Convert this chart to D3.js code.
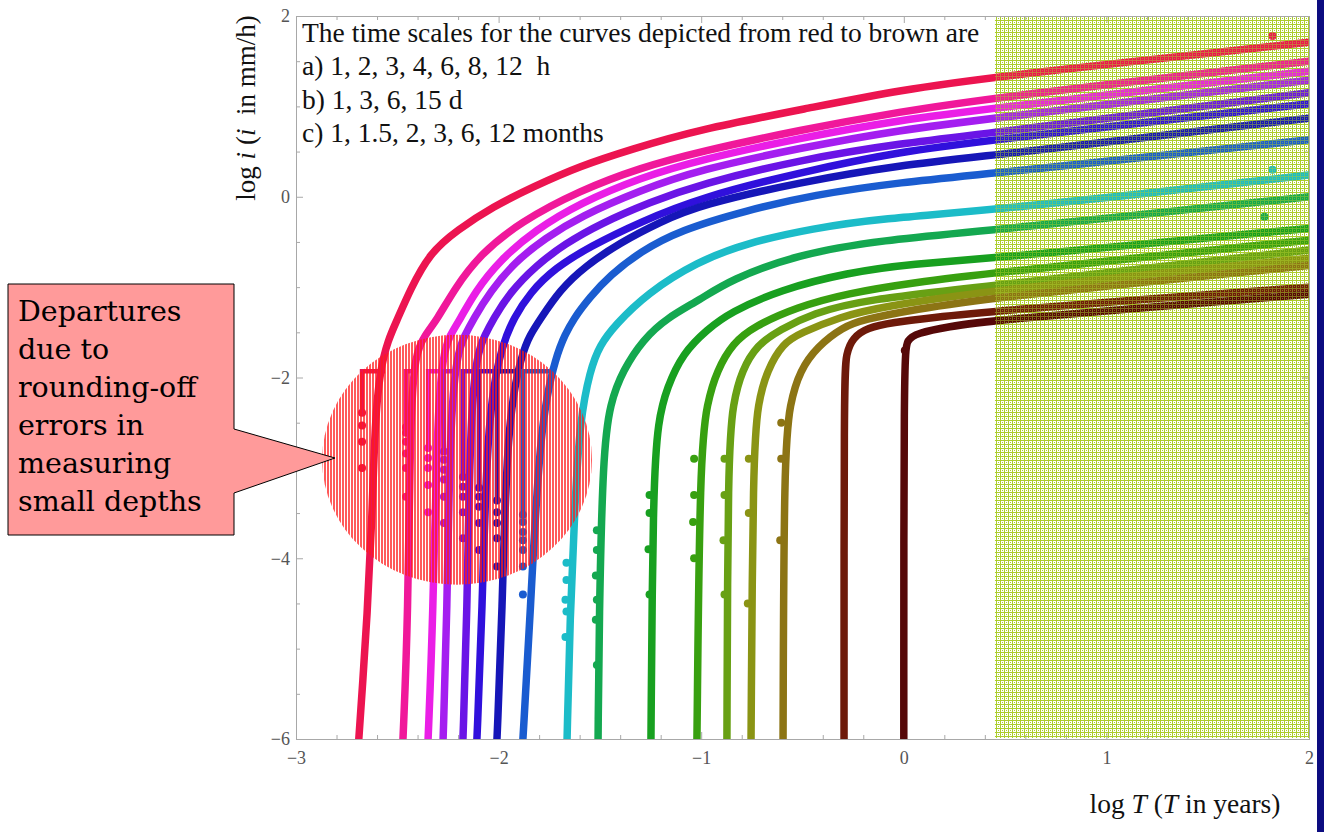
<!DOCTYPE html>
<html>
<head>
<meta charset="utf-8">
<script src="https://cdn.jsdelivr.net/npm/d3@7/dist/d3.min.js"></script>
<style>
  body { margin: 0; background: #fff; }
</style>
</head>
<body>
<div id="chart"></div>
<script>
// one array per duration: [log T, log i]
const c1h  = [[-2.69,-6],[-2.67,-5.35],[-2.65,-4.68],[-2.625,-3.58],[-2.61,-2.47],[-2.585,-1.92],[-2.546,-1.585],[-2.5,-1.36],[-2.437,-1.03],[-2.339,-0.62],[-2.205,-0.37],[-2.028,-0.11],[-1.83,0.11],[-1.598,0.34],[-1.351,0.52],[-1.021,0.74],[-0.448,0.99],[-0.019,1.18],[0.45,1.33],[2,1.71]];
const c2h  = [[-2.472,-6],[-2.447,-4.68],[-2.437,-2.47],[-2.413,-1.73],[-2.363,-1.53],[-2.304,-1.36],[-2.215,-1.01],[-2.092,-0.64],[-1.894,-0.28],[-1.598,0.07],[-1.302,0.32],[-1.006,0.5],[-0.512,0.74],[-0.019,0.94],[0.45,1.1],[2,1.5]];
const c3h  = [[-2.348,-6],[-2.324,-4.68],[-2.304,-2.47],[-2.274,-1.73],[-2.24,-1.53],[-2.191,-1.36],[-2.116,-1.05],[-1.993,-0.7],[-1.82,-0.37],[-1.598,-0.07],[-1.302,0.21],[-1.006,0.41],[-0.512,0.65],[-0.019,0.85],[0.45,0.98],[2,1.39]];
const c4h  = [[-2.274,-6],[-2.255,-4.68],[-2.24,-2.47],[-2.205,-1.73],[-2.166,-1.53],[-2.126,-1.36],[-2.042,-1.05],[-1.919,-0.72],[-1.771,-0.46],[-1.598,-0.22],[-1.302,0.07],[-1.006,0.3],[-0.512,0.54],[-0.019,0.74],[0.45,0.87],[2,1.29]];
const c6h  = [[-2.176,-6],[-2.156,-4.68],[-2.141,-2.47],[-2.107,-1.73],[-2.067,-1.53],[-2.028,-1.36],[-1.944,-1.06],[-1.82,-0.77],[-1.672,-0.52],[-1.5,-0.3],[-1.253,-0.06],[-1.006,0.14],[-0.512,0.41],[-0.019,0.59],[0.45,0.71],[2,1.15]];
const c8h  = [[-2.107,-6],[-2.082,-4.68],[-2.057,-2.47],[-1.993,-1.73],[-1.959,-1.53],[-1.929,-1.36],[-1.845,-1.06],[-1.722,-0.79],[-1.549,-0.55],[-1.302,-0.28],[-1.006,-0.01],[-0.512,0.27],[-0.019,0.5],[0.45,0.63],[2,1.03]];
const c12h = [[-2.008,-6],[-1.983,-4.68],[-1.959,-2.47],[-1.885,-1.73],[-1.845,-1.53],[-1.796,-1.36],[-1.697,-1.03],[-1.574,-0.77],[-1.401,-0.51],[-1.203,-0.28],[-1.006,-0.09],[-0.512,0.16],[-0.019,0.35],[0.45,0.46],[2,0.87]];
const c1d  = [[-1.88,-6],[-1.845,-4.68],[-1.796,-2.47],[-1.712,-1.73],[-1.672,-1.53],[-1.633,-1.36],[-1.549,-1.11],[-1.45,-0.87],[-1.302,-0.61],[-1.105,-0.37],[-0.774,-0.15],[-0.448,0.02],[-0.019,0.16],[0.45,0.26],[2,0.63]];
const c3d  = [[-1.662,-6],[-1.648,-4.68],[-1.623,-3.36],[-1.598,-2.47],[-1.549,-1.92],[-1.5,-1.64],[-1.425,-1.42],[-1.268,-1.07],[-1.021,-0.72],[-0.774,-0.51],[-0.448,-0.35],[-0.117,-0.24],[0.45,-0.15],[2,0.24]];
const c6d  = [[-1.509,-6],[-1.504,-4.68],[-1.485,-2.84],[-1.45,-2.28],[-1.386,-1.92],[-1.287,-1.58],[-1.169,-1.34],[-1.006,-1.14],[-0.858,-0.92],[-0.527,-0.64],[-0.117,-0.48],[0.45,-0.37],[2,0]];
const c15d = [[-1.248,-6],[-1.238,-3.21],[-1.213,-2.47],[-1.169,-2.11],[-1.09,-1.73],[-0.971,-1.47],[-0.858,-1.28],[-0.611,-1.03],[-0.28,-0.84],[0.045,-0.74],[0.45,-0.68],[2,-0.35]];
const c1m  = [[-1.021,-6],[-1.006,-2.84],[-0.971,-2.28],[-0.922,-1.92],[-0.843,-1.62],[-0.744,-1.44],[-0.527,-1.22],[-0.28,-1.07],[0.045,-0.95],[0.45,-0.84],[2,-0.48]];
const c15m = [[-0.873,-6],[-0.868,-2.84],[-0.843,-2.28],[-0.799,-1.92],[-0.725,-1.64],[-0.611,-1.47],[-0.448,-1.29],[-0.201,-1.14],[0.45,-0.98],[2,-0.59]];
const c2m  = [[-0.754,-6],[-0.744,-2.84],[-0.72,-2.28],[-0.675,-1.92],[-0.596,-1.62],[-0.512,-1.51],[-0.315,-1.33],[-0.117,-1.22],[0.45,-1.03],[2,-0.68]];
const c3m  = [[-0.596,-6],[-0.591,-2.84],[-0.562,-2.28],[-0.512,-1.92],[-0.428,-1.66],[-0.3,-1.44],[-0.201,-1.36],[0.045,-1.25],[0.45,-1.11],[2,-0.76]];
const c6m  = [[-0.295,-6],[-0.295,-2.03],[-0.285,-1.73],[-0.251,-1.56],[-0.182,-1.45],[-0.053,-1.39],[0.129,-1.34],[0.45,-1.26],[2,-1]];
const c12m = [[0,-6],[0,-1.75],[0.016,-1.58],[0.065,-1.51],[0.213,-1.44],[0.45,-1.36],[2,-1.08]];

const curves = [c1h, c2h, c3h, c4h, c6h, c8h, c12h, c1d, c3d, c6d, c15d, c1m, c15m, c2m, c3m, c6m, c12m];
const curveColors = ["#ec1450","#f0189a","#ea1ee6","#a41ef0","#6a14e6","#3010dc","#1616b8","#1a5cd0",
                     "#1cbcc8","#14a850","#18a020","#38a010","#68a014","#8a9414","#8c7414","#6e1a0a","#560808"];

// rounding-off departures of the hourly/daily curves
const depX    = [-2.674,-2.457,-2.348,-2.27,-2.176,-2.097,-2.008,-1.88];
const depEndX = [-2.56,-2.41,-2.27,-2.2,-2.1,-1.99,-1.89,-1.75];
const depLevel = -1.93;
const depDots = [
  [-2.39,-2.53,-2.71,-3.0],
  [-2.55,-2.61,-2.71,-2.84,-3.0,-3.32],
  [-2.78,-2.89,-3.0,-3.19,-3.49],
  [-2.82,-2.91,-3.02,-3.13,-3.32,-3.61],
  [-3.1,-3.21,-3.32,-3.49,-3.78],
  [-3.22,-3.32,-3.43,-3.61,-3.91],
  [-3.36,-3.49,-3.61,-3.78,-4.09],
  [-3.52,-3.6,-3.71,-3.8,-3.91,-4.09,-4.4]
];
// scattered points off the curves: [curve index, log T, log i]
const strayDots = [
  [8,-1.665,-4.05],[8,-1.665,-4.24],[8,-1.67,-4.46],[8,-1.665,-4.59],[8,-1.67,-4.87],
  [9,-1.515,-3.69],[9,-1.515,-3.91],[9,-1.52,-4.19],[9,-1.515,-4.46],[9,-1.52,-4.68],[9,-1.515,-5.18],
  [10,-1.255,-3.3],[10,-1.255,-3.5],[10,-1.26,-3.9],[10,-1.255,-4.4],
  [11,-1.035,-2.9],[11,-1.035,-3.3],[11,-1.04,-3.6],[11,-1.035,-4.0],
  [12,-0.885,-2.9],[12,-0.885,-3.3],[12,-0.89,-3.8],[12,-0.885,-4.4],
  [13,-0.765,-2.9],[13,-0.765,-3.5],[13,-0.77,-4.5],
  [14,-0.605,-2.5],[14,-0.605,-2.9],[14,-0.61,-3.8],
  [16,0.005,-1.7],[0,1.82,1.78],[8,1.82,0.3],[9,1.78,-0.22]
];

const xMajor = [-3,-2,-1,0,1,2];
const xMinor = [-2.8,-2.6,-2.4,-2.2,-1.8,-1.6,-1.4,-1.2,-0.8,-0.6,-0.4,-0.2,0.2,0.4,0.6,0.8,1.2,1.4,1.6,1.8];
const yMajor = [-6,-4,-2,0,2];
const yMinor = [-5.5,-5,-4.5,-3.5,-3,-2.5,-1.5,-1,-0.5,0.5,1,1.5];

const noteLines = ["The time scales for the curves depicted from red to brown are",
                   "a) 1, 2, 3, 4, 6, 8, 12  h", "b) 1, 3, 6, 15 d", "c) 1, 1.5, 2, 3, 6, 12 months"];
const calloutLines = ["Departures","due to","rounding-off","errors in","measuring","small depths"];

const serif = "'Liberation Serif', 'Times New Roman', serif";
const W = 1324, H = 832;
const svg = d3.select("#chart").append("svg").attr("width", W).attr("height", H);

const x = d3.scaleLinear().domain([-3, 2]).range([296, 1309]);
const y = d3.scaleLinear().domain([-6, 2]).range([739, 16]);

const defs = svg.append("defs");
defs.append("clipPath").attr("id", "plot").append("rect")
  .attr("x", x(-3)).attr("y", y(2)).attr("width", x(2) - x(-3)).attr("height", y(-6) - y(2));

const mesh = defs.append("pattern").attr("id", "mesh")
  .attr("width", 4).attr("height", 4).attr("patternUnits", "userSpaceOnUse");
[[0,0,4,1],[0,1,1,3],[2,2,1,1]].forEach(r =>
  mesh.append("rect").attr("x", r[0]).attr("y", r[1]).attr("width", r[2]).attr("height", r[3]).attr("fill", "#accd2c"));

const hatch = defs.append("pattern").attr("id", "hatch")
  .attr("width", 3).attr("height", 3).attr("patternUnits", "userSpaceOnUse");
hatch.append("rect").attr("width", 2).attr("height", 3).attr("fill", "#ff1a1a");

// frame + ticks
const axisCol = "#a8a8a8";
function styleAxis(g) {
  g.selectAll("path.domain").attr("stroke", axisCol);
  g.selectAll(".tick line").attr("stroke", axisCol);
  g.selectAll("text").attr("fill", "#555").attr("font-size", 18).attr("font-family", serif);
}
const frame = [
  [d3.axisBottom(x), `translate(0,${y(-6)})`, xMajor, xMinor, true],
  [d3.axisTop(x), `translate(0,${y(2)})`, xMajor, xMinor, false],
  [d3.axisLeft(y), `translate(${x(-3)},0)`, yMajor, yMinor, true],
  [d3.axisRight(y), `translate(${x(2)},0)`, yMajor, yMinor, false]
];
frame.forEach(([ax, tr, maj, min, lab], i) => {
  svg.append("g").attr("transform", tr)
    .call(ax.tickValues(min).tickSizeInner(-4).tickSizeOuter(0).tickFormat(""))
    .call(styleAxis);
  svg.append("g").attr("transform", tr)
    .call(ax.tickValues(maj).tickSizeInner(-7).tickSizeOuter(0)
      .tickPadding(i === 0 ? 12 : 6)
      .tickFormat(lab ? d3.format("") : ""))
    .call(styleAxis);
});

// hatched zone for long return periods: solid mesh under the curves, lighter mesh over them
const meshFrom = 0.45;
const zone = g => g
  .attr("x", x(meshFrom)).attr("y", y(2) + 1)
  .attr("width", x(2) - x(meshFrom)).attr("height", y(-6) - y(2) - 2)
  .attr("fill", "url(#mesh)");
svg.append("rect").call(zone);

// curves
const plot = svg.append("g").attr("clip-path", "url(#plot)");
const line = d3.line().x(d => x(d[0])).y(d => y(d[1])).curve(d3.curveBasis);

plot.selectAll("path.curve").data(curves).enter().append("path")
  .attr("class", "curve")
  .attr("d", line)
  .attr("fill", "none")
  .attr("stroke", (d, i) => curveColors[i])
  .attr("stroke-width", 7.5)
  .attr("stroke-linecap", "round")
  .attr("stroke-linejoin", "round");

// departures
const stepLine = d3.line().x(d => x(d[0])).y(d => y(d[1]));
depX.forEach((dx, i) => {
  plot.append("path")
    .attr("d", stepLine([[dx, depDots[i][0]], [dx, depLevel], [depEndX[i], depLevel]]))
    .attr("fill", "none").attr("stroke", curveColors[i]).attr("stroke-width", 4.5);
  plot.selectAll(null).data(depDots[i]).enter().append("circle")
    .attr("cx", x(dx)).attr("cy", d => y(d)).attr("r", 4).attr("fill", curveColors[i]);
});

plot.selectAll("circle.stray").data(strayDots).enter().append("circle")
  .attr("class", "stray")
  .attr("cx", d => x(d[1])).attr("cy", d => y(d[2])).attr("r", 4)
  .attr("fill", d => curveColors[d[0]]);

svg.append("rect").call(zone).attr("opacity", 0.5);

// hatched ellipse over the departures
const ell = { cx: -2.205, cy: -2.91, rx: 0.666, ry: 1.383 };
svg.append("ellipse")
  .attr("cx", x(ell.cx)).attr("cy", y(ell.cy))
  .attr("rx", x(ell.cx + ell.rx) - x(ell.cx)).attr("ry", y(ell.cy - ell.ry) - y(ell.cy))
  .attr("fill", "url(#hatch)").attr("opacity", 0.72);

// note text
svg.append("g").selectAll("text").data(noteLines).enter().append("text")
  .attr("x", 302).attr("y", (d, i) => 42 + i * 33.3)
  .attr("font-family", serif).attr("font-size", 27.5).attr("fill", "#111")
  .style("white-space", "pre")
  .text(d => d);

// axis titles
const yt = svg.append("text").attr("transform", "translate(255,108) rotate(-90)")
  .attr("text-anchor", "middle").attr("font-family", serif).attr("font-size", 27).attr("fill", "#111")
  .style("white-space", "pre");
yt.append("tspan").text("log ");
yt.append("tspan").attr("font-style", "italic").text("i");
yt.append("tspan").text(" (");
yt.append("tspan").attr("font-style", "italic").text("i");
yt.append("tspan").text("  in mm/h)");

const xt = svg.append("text").attr("x", 1185).attr("y", 813)
  .attr("text-anchor", "middle").attr("font-family", serif).attr("font-size", 27.5).attr("fill", "#111");
xt.append("tspan").text("log ");
xt.append("tspan").attr("font-style", "italic").text("T");
xt.append("tspan").text(" (");
xt.append("tspan").attr("font-style", "italic").text("T");
xt.append("tspan").text(" in years)");

// callout
svg.append("path")
  .attr("d", "M8,284 L234,284 L234,429 L335,458 L234,493 L234,535 L8,535 Z")
  .attr("fill", "#ff9a9a").attr("stroke", "#000").attr("stroke-width", 1);
svg.append("g").selectAll("text").data(calloutLines).enter().append("text")
  .attr("x", 18).attr("y", (d, i) => 321 + i * 38)
  .attr("font-family", "'DejaVu Serif', serif").attr("font-size", 28.5).attr("fill", "#000")
  .text(d => d);

// blue edge
svg.append("rect").attr("x", 1317).attr("y", 0).attr("width", 7).attr("height", H).attr("fill", "#0c0c80");
</script>
</body>
</html>
